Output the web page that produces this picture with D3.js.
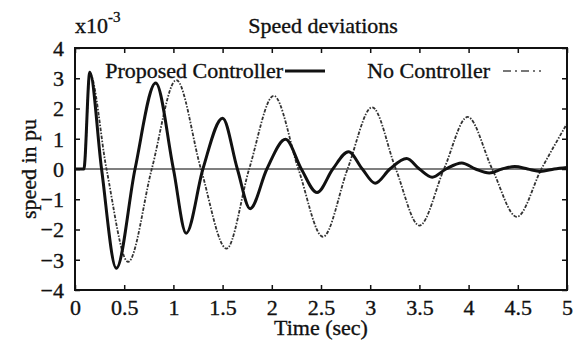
<!DOCTYPE html>
<html>
<head>
<meta charset="utf-8">
<script src="https://cdn.jsdelivr.net/npm/d3@7"></script>
<style>
  body { margin: 0; background: #fff; }
  svg text { font-family: "Liberation Serif", "Times New Roman", Times, "DejaVu Serif", serif !important; fill: #111; stroke: #111; stroke-width: 0.35px; }
</style>
</head>
<body>
<div id="chart"></div>
<script>
const width = 583, height = 340;
const margin = { top: 48, right: 16, bottom: 50, left: 75 };

// time (sec) and speed deviation (x10^-3 pu)
const propTime = [0, 0.09, 0.15, 0.27, 0.42, 0.61, 0.82, 1.0, 1.13, 1.3, 1.5, 1.65, 1.78, 1.95,
  2.14, 2.3, 2.46, 2.62, 2.78, 2.92, 3.05, 3.2, 3.37, 3.5, 3.63, 3.77, 3.93, 4.07, 4.21,
  4.34, 4.47, 4.6, 4.73, 4.87, 5.0];
const propSpeed = [0, 0, 3.2, 0, -3.28, 0, 2.84, 0, -2.12, 0, 1.68, 0, -1.31, 0,
  0.98, 0, -0.78, 0, 0.57, 0, -0.47, 0, 0.35, 0, -0.27, 0, 0.2, 0, -0.13,
  0, 0.08, 0, -0.08, 0, 0.05];

const noTime = [0, 0.09, 0.15, 0.32, 0.54, 0.78, 1.03, 1.28, 1.54, 1.77, 2.02, 2.27, 2.52,
  2.77, 3.02, 3.26, 3.5, 3.75, 3.99, 4.24, 4.49, 4.74, 5.0];
const noSpeed = [0, 0, 3.15, 0, -3.07, 0, 2.94, 0, -2.63, 0, 2.42, 0, -2.24,
  0, 2.04, 0, -1.87, 0, 1.72, 0, -1.58, 0, 1.5];

const xTicks = [0, 0.5, 1, 1.5, 2, 2.5, 3, 3.5, 4, 4.5, 5];
const yTicks = [-4, -3, -2, -1, 0, 1, 2, 3, 4];

const svg = d3.select("#chart").append("svg")
  .attr("width", width).attr("height", height);

const x = d3.scaleLinear().domain([0, 5]).range([margin.left, width - margin.right]);
const y = d3.scaleLinear().domain([-4, 4]).range([height - margin.bottom, margin.top]);

// zero line
svg.append("line")
  .attr("x1", x(0)).attr("x2", x(5))
  .attr("y1", y(0)).attr("y2", y(0))
  .attr("stroke", "#555").attr("stroke-width", 1.4);

const line = d3.line()
  .x(d => x(d[0]))
  .y(d => y(d[1]))
  .curve(d3.curveMonotoneX);

svg.append("path")
  .datum(d3.zip(noTime, noSpeed))
  .attr("fill", "none")
  .attr("stroke", "#333")
  .attr("stroke-width", 1.8)
  .attr("stroke-dasharray", "3.5,1.5,1.5,1.5")
  .attr("d", line);

svg.append("path")
  .datum(d3.zip(propTime, propSpeed))
  .attr("fill", "none")
  .attr("stroke", "#111")
  .attr("stroke-width", 3)
  .attr("stroke-linejoin", "round")
  .attr("d", line);

// axes, ticks pointing inward
const fontSize = 22;
const styleAxis = g => {
  g.attr("font-family", null);
  g.select(".domain").remove();
  g.selectAll(".tick line").attr("stroke", "#111").attr("stroke-width", 1.5);
  g.selectAll(".tick text").attr("font-size", fontSize).attr("fill", "#111");
};

svg.append("g")
  .attr("transform", `translate(0,${y(-4)})`)
  .call(d3.axisBottom(x).tickValues(xTicks).tickFormat(d3.format("")).tickSize(-5).tickPadding(9))
  .call(styleAxis);

svg.append("g")
  .attr("transform", `translate(${x(0)},0)`)
  .call(d3.axisLeft(y).tickValues(yTicks).tickFormat(d3.format("")).tickSize(-5).tickPadding(11))
  .call(styleAxis)
  .call(g => g.selectAll(".tick text").attr("dy", "0.34em"));

svg.append("g")
  .attr("transform", `translate(0,${y(4)})`)
  .call(d3.axisTop(x).tickValues(xTicks).tickFormat("").tickSize(-5))
  .call(styleAxis);

svg.append("g")
  .attr("transform", `translate(${x(5)},0)`)
  .call(d3.axisRight(y).tickValues(yTicks).tickFormat("").tickSize(-5))
  .call(styleAxis);

// frame
svg.append("rect")
  .attr("x", x(0)).attr("y", y(4))
  .attr("width", x(5) - x(0)).attr("height", y(-4) - y(4))
  .attr("fill", "none").attr("stroke", "#111").attr("stroke-width", 2);

// titles
svg.append("text")
  .attr("x", 323).attr("y", 33)
  .attr("text-anchor", "middle").attr("font-size", fontSize)
  .text("Speed deviations");

const mult = svg.append("text")
  .attr("x", 75).attr("y", 33).attr("font-size", fontSize);
mult.append("tspan").text("x10");
mult.append("tspan").attr("dy", -11).attr("font-size", 15).text("-3");

svg.append("text")
  .attr("x", (x(0) + x(5)) / 2).attr("y", 335)
  .attr("text-anchor", "middle").attr("font-size", fontSize)
  .text("Time (sec)");

svg.append("text")
  .attr("transform", `translate(36,${y(0)}) rotate(-90)`)
  .attr("text-anchor", "middle").attr("font-size", fontSize)
  .text("speed in pu");

// legend
const legend = svg.append("g");
legend.append("text")
  .attr("x", 283).attr("y", 78)
  .attr("text-anchor", "end").attr("font-size", fontSize)
  .text("Proposed Controller");
legend.append("line")
  .attr("x1", 285).attr("x2", 325).attr("y1", 71).attr("y2", 71)
  .attr("stroke", "#111").attr("stroke-width", 3);
legend.append("text")
  .attr("x", 490).attr("y", 78)
  .attr("text-anchor", "end").attr("font-size", fontSize)
  .text("No Controller");
legend.append("line")
  .attr("x1", 503).attr("x2", 541).attr("y1", 71).attr("y2", 71)
  .attr("stroke", "#777").attr("stroke-width", 1.8)
  .attr("stroke-dasharray", "8,4,2,4");
</script>
</body>
</html>
